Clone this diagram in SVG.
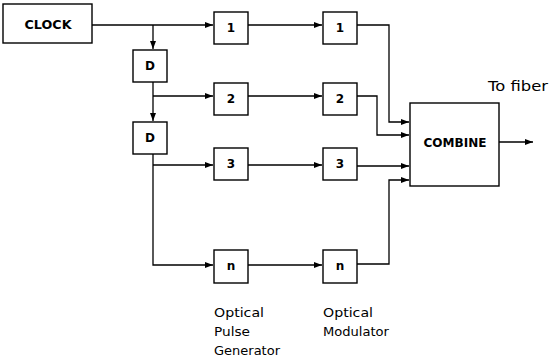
<svg xmlns="http://www.w3.org/2000/svg" width="551" height="362" viewBox="0 0 551 362">
<defs>
<marker id="ah" markerWidth="8" markerHeight="6" refX="8" refY="3" orient="auto" markerUnits="userSpaceOnUse">
<path d="M0,0 L8,3 L0,6 Z" fill="#000"/>
</marker>
<style>
.b{fill:#fff;stroke:#000;stroke-width:1.4}
.t{font-family:"DejaVu Sans","Liberation Sans",sans-serif;font-size:12px;font-weight:bold;fill:#000;text-anchor:middle;dominant-baseline:central}
.l{font-family:"DejaVu Sans","Liberation Sans",sans-serif;font-size:13px;fill:#000}
.c{fill:none;stroke:#000;stroke-width:1.3}
</style>
</defs>
<rect width="551" height="362" fill="#fff"/>
<g id="clock"><rect class="b" x="3" y="4" width="89" height="39"/><text class="t" x="48" y="25" textLength="47" lengthAdjust="spacingAndGlyphs">CLOCK</text></g>
<g id="d1"><rect class="b" x="133" y="50" width="34" height="32"/><text class="t" x="150" y="66">D</text></g>
<g id="d2"><rect class="b" x="133" y="122" width="34" height="32"/><text class="t" x="150" y="138">D</text></g>
<g id="p1"><rect class="b" x="214" y="12" width="34" height="32"/><text class="t" x="231" y="28">1</text></g>
<g id="p2"><rect class="b" x="214" y="83" width="34" height="32"/><text class="t" x="231" y="99">2</text></g>
<g id="p3"><rect class="b" x="214" y="148" width="34" height="32"/><text class="t" x="231" y="164">3</text></g>
<g id="pn"><rect class="b" x="214" y="250" width="34" height="33"/><text class="t" x="231" y="266">n</text></g>
<g id="m1"><rect class="b" x="323" y="12" width="34" height="32"/><text class="t" x="340" y="28">1</text></g>
<g id="m2"><rect class="b" x="323" y="83" width="34" height="32"/><text class="t" x="340" y="99">2</text></g>
<g id="m3"><rect class="b" x="323" y="148" width="34" height="32"/><text class="t" x="340" y="164">3</text></g>
<g id="mn"><rect class="b" x="323" y="250" width="34" height="33"/><text class="t" x="340" y="266">n</text></g>
<g id="combine"><rect class="b" x="410" y="103" width="89" height="83"/><text class="t" x="455" y="143" textLength="63" lengthAdjust="spacingAndGlyphs">COMBINE</text></g>
<g id="connectors">
<path class="c" d="M92,25 H213" marker-end="url(#ah)"/>
<path class="c" d="M153,25 V49" marker-end="url(#ah)"/>
<path class="c" d="M153,82 V121" marker-end="url(#ah)"/>
<path class="c" d="M153,96 H213" marker-end="url(#ah)"/>
<path class="c" d="M153,154 V265 H213" marker-end="url(#ah)"/>
<path class="c" d="M153,165 H213" marker-end="url(#ah)"/>
<path class="c" d="M248,25 H322" marker-end="url(#ah)"/>
<path class="c" d="M248,96 H322" marker-end="url(#ah)"/>
<path class="c" d="M248,165 H322" marker-end="url(#ah)"/>
<path class="c" d="M248,265 H322" marker-end="url(#ah)"/>
<path class="c" d="M357,25 H389 V122 H409" marker-end="url(#ah)"/>
<path class="c" d="M357,96 H377 V135 H409" marker-end="url(#ah)"/>
<path class="c" d="M357,166 H409" marker-end="url(#ah)"/>
<path class="c" d="M357,264 H389 V180 H409" marker-end="url(#ah)"/>
<path class="c" d="M499,142 H533" marker-end="url(#ah)"/>
</g>
<text class="l" x="488" y="91" style="font-size:14px" textLength="60" lengthAdjust="spacingAndGlyphs">To fiber</text>
<text class="l" x="214" y="317" textLength="50" lengthAdjust="spacingAndGlyphs">Optical</text>
<text class="l" x="214" y="336" textLength="36" lengthAdjust="spacingAndGlyphs">Pulse</text>
<text class="l" x="214" y="355" textLength="66" lengthAdjust="spacingAndGlyphs">Generator</text>
<text class="l" x="323" y="317" textLength="50" lengthAdjust="spacingAndGlyphs">Optical</text>
<text class="l" x="323" y="336" textLength="66" lengthAdjust="spacingAndGlyphs">Modulator</text>
</svg>
